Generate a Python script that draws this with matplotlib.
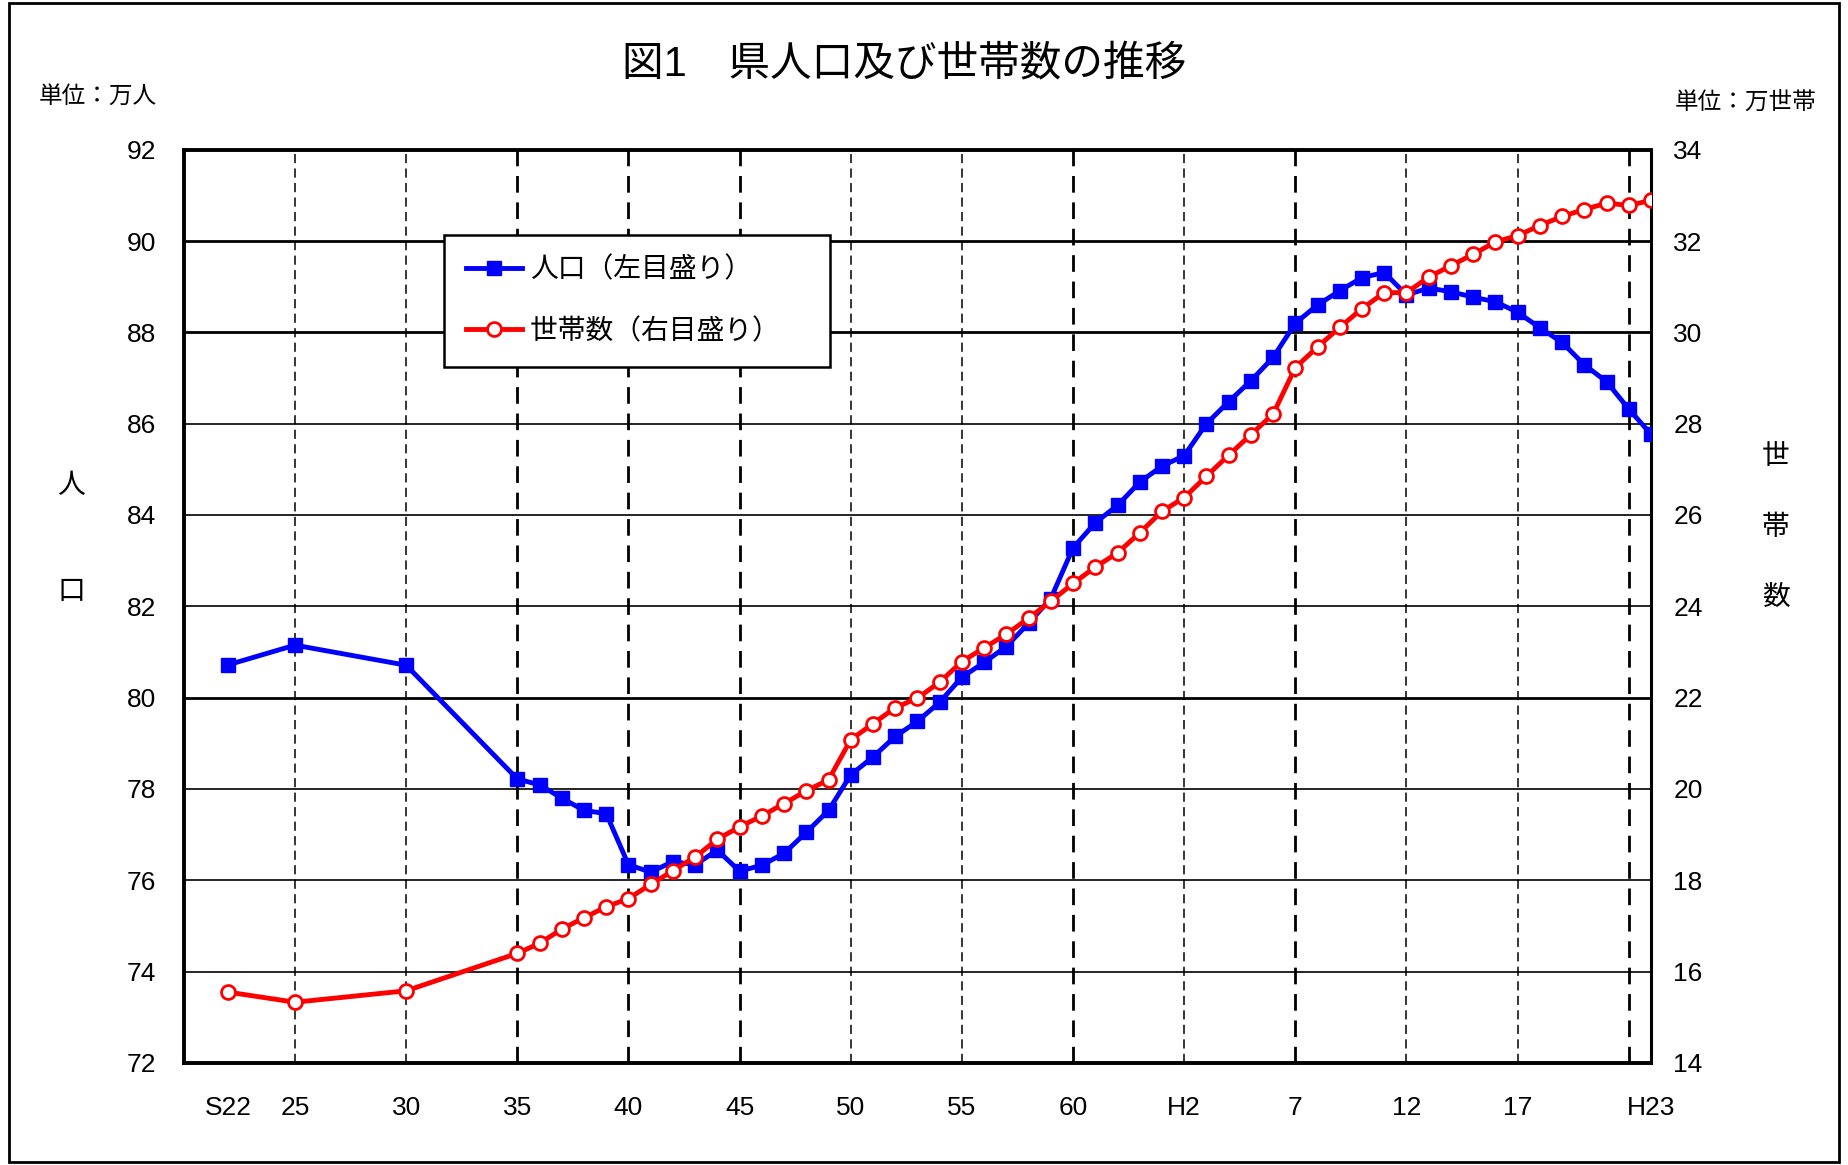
import matplotlib.pyplot as plt
from matplotlib.lines import Line2D
from matplotlib.patches import Rectangle

plt.rcParams['font.family'] = ['Liberation Sans', 'Noto Sans CJK JP', 'DejaVu Sans']

# 年（昭和22年〜平成23年）
years = [1947, 1950, 1955] + list(range(1960, 2012))

# 人口（万人, 左目盛り）
population = [80.72, 81.15, 80.71,
              78.22, 78.09, 77.80, 77.53, 77.46, 76.34, 76.18, 76.41, 76.34, 76.66,
              76.20, 76.33, 76.59, 77.05, 77.53, 78.31, 78.70, 79.15, 79.48, 79.90,
              80.45, 80.77, 81.12, 81.63, 82.17, 83.28, 83.83, 84.21, 84.72, 85.07,
              85.30, 86.00, 86.48, 86.94, 87.45, 88.20, 88.60, 88.91, 89.20, 89.31,
              88.82, 88.97, 88.89, 88.77, 88.67, 88.44, 88.10, 87.78, 87.29, 86.92,
              86.32, 85.77]

# 世帯数（万世帯, 右目盛り）
households = [15.55, 15.33, 15.58,
              16.40, 16.62, 16.93, 17.18, 17.42, 17.60, 17.91, 18.21, 18.51, 18.90,
              19.17, 19.41, 19.68, 19.96, 20.20, 21.08, 21.43, 21.78, 21.99, 22.34,
              22.79, 23.09, 23.39, 23.74, 24.11, 24.50, 24.86, 25.17, 25.61, 26.08,
              26.38, 26.85, 27.31, 27.76, 28.21, 29.23, 29.68, 30.11, 30.52, 30.87,
              30.87, 31.21, 31.46, 31.71, 31.98, 32.12, 32.34, 32.54, 32.69, 32.83,
              32.78, 32.89]

xtick_pos = [1947, 1950, 1955, 1960, 1965, 1970, 1975, 1980, 1985, 1990, 1995, 2000, 2005, 2011]
xtick_labels = ['S22', '25', '30', '35', '40', '45', '50', '55', '60', 'H2', '7', '12', '17', 'H23']
vgrid_years = [1950, 1955, 1960, 1965, 1970, 1975, 1980, 1985, 1990, 1995, 2000, 2005, 2010]
vgrid_bold = [1960, 1965, 1970, 1985, 1995, 2010]
hgrid_vals = [74, 76, 78, 80, 82, 84, 86, 88, 90]
hgrid_bold = [80, 88, 90]

fig = plt.figure(figsize=(18.48, 11.65), dpi=100)
ax = fig.add_axes([0.0995, 0.0876, 0.7939, 0.7839])
ax2 = ax.twinx()

for y in hgrid_vals:
    ax.axhline(y, color='black', lw=2.0 if y in hgrid_bold else 1.2, zorder=1)
for x in vgrid_years:
    ax.axvline(x, color='black', lw=2.0 if x in vgrid_bold else 1.1,
               linestyle=(0, (6, 3.5)), zorder=1)

ax.plot(years, population, color='#0000FF', lw=3.5, marker='s', ms=9.5,
        mfc='#0000FF', mec='#0000FF', zorder=3)
ax2.plot(years, households, color='#FF0000', lw=3.5, marker='o', ms=10,
         mfc='white', mec='#FF0000', mew=2, zorder=3)

ax.set_xlim(1945, 2011)
ax.set_ylim(72, 92)
ax2.set_ylim(14, 34)
ax.set_yticks(range(72, 93, 2))
ax2.set_yticks(range(14, 35, 2))
ax.set_xticks(xtick_pos)
ax.set_xticklabels(xtick_labels)

ax.tick_params(axis='x', length=0, pad=24, labelsize=19)
ax.tick_params(axis='y', length=0, pad=20, labelsize=19)
ax2.tick_params(axis='y', length=0, pad=16, labelsize=19)

for s in ['left', 'bottom', 'top']:
    ax.spines[s].set_linewidth(2.8)
ax.spines['right'].set_linewidth(2.2)
for s in ax2.spines.values():
    s.set_visible(False)

handles = [Line2D([], [], color='#0000FF', lw=3.5, marker='s', ms=9.5),
           Line2D([], [], color='#FF0000', lw=3.5, marker='o', ms=10,
                  mfc='white', mec='#FF0000', mew=2)]
leg = ax.legend(handles, ['人口（左目盛り）', '世帯数（右目盛り）　'],
                loc='upper left', bbox_to_anchor=(0.1772, 0.9066), borderaxespad=0,
                fontsize=20, frameon=True, fancybox=False, edgecolor='black',
                framealpha=1, borderpad=0.8, labelspacing=1.25, handlelength=2.0,
                handletextpad=0.3)
leg.get_frame().set_linewidth(1.8)
leg.set_zorder(5)

fig.text(0.489, 0.944, '図1　県人口及び世帯数の推移', fontsize=30, ha='center', va='center')
fig.text(0.021, 0.917, '単位：万人', fontsize=17, ha='left', va='center')
fig.text(0.983, 0.912, '単位：万世帯', fontsize=17, ha='right', va='center')
fig.text(0.0385, 0.583, '人', fontsize=20, ha='center', va='center')
fig.text(0.0385, 0.492, '口', fontsize=20, ha='center', va='center')
fig.text(0.961, 0.608, '世', fontsize=20, ha='center', va='center')
fig.text(0.961, 0.547, '帯', fontsize=20, ha='center', va='center')
fig.text(0.961, 0.487, '数', fontsize=20, ha='center', va='center')

fig.patches.append(Rectangle((9 / 1848, 3 / 1165), 1830 / 1848, 1159 / 1165,
                             transform=fig.transFigure, fill=False,
                             edgecolor='black', lw=2))

fig.savefig('out.png', dpi=100)
